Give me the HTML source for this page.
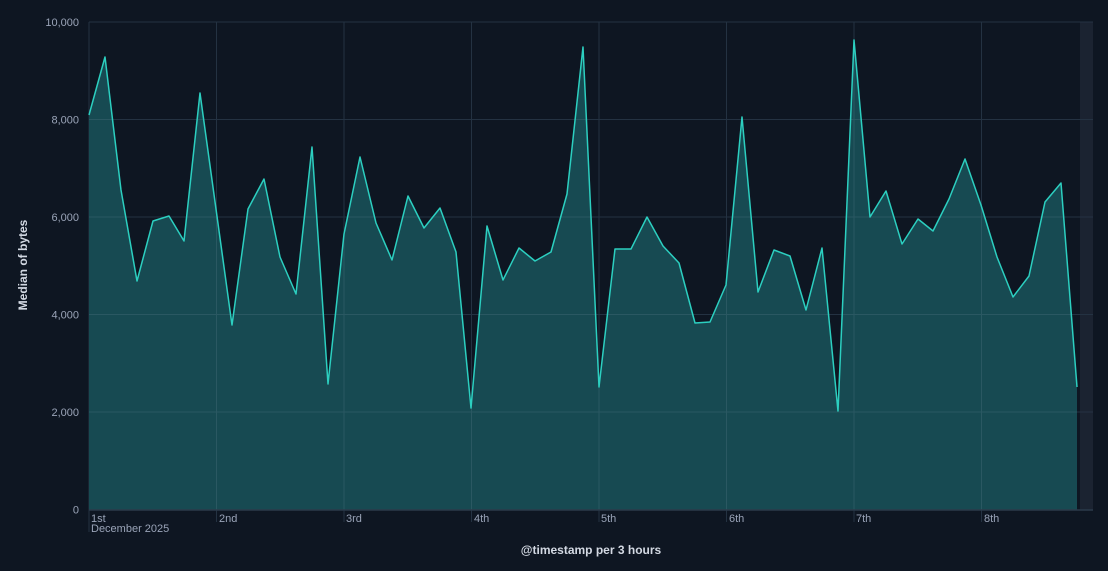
<!DOCTYPE html>
<html><head><style>
html,body{margin:0;padding:0;background:#0e1622;}
svg{display:block;font-family:"Liberation Sans",sans-serif;}
</style></head><body>
<svg width="1108" height="571" viewBox="0 0 1108 571">
<rect width="1108" height="571" fill="#0e1622"/>
<rect x="1080" y="22" width="13" height="488" fill="#1b2331"/>
<g stroke="#243242" stroke-width="1">
<line x1="89" y1="22" x2="1093" y2="22"/>
<line x1="89" y1="119.5" x2="1093" y2="119.5"/>
<line x1="89" y1="217" x2="1093" y2="217"/>
<line x1="89" y1="314.5" x2="1093" y2="314.5"/>
<line x1="89" y1="412" x2="1093" y2="412"/>
<line x1="216.5" y1="22" x2="216.5" y2="522"/>
<line x1="344" y1="22" x2="344" y2="522"/>
<line x1="471.5" y1="22" x2="471.5" y2="522"/>
<line x1="599" y1="22" x2="599" y2="522"/>
<line x1="726.5" y1="22" x2="726.5" y2="522"/>
<line x1="854" y1="22" x2="854" y2="522"/>
<line x1="981.5" y1="22" x2="981.5" y2="522"/>
<line x1="89" y1="22" x2="89" y2="532"/>
</g>
<polygon fill="#174a52" points="89,509.5 89,115 105,57 121,190 137,281 153,221 169,216 184,241 200,93 216,209 232,325 248,209 264,179 280,257 296,294 312,147 328,384 344,234 360,157 376,223 392,260 408,196 424,228 440,208 456,252 471,408 487,226 503,280 519,248 535,261 551,252 567,194 583,47 599,387 615,249 631,249 647,217 663,246 679,263 695,323 710,322 726,285 742,117 758,292 774,250 790,256 806,310 822,248 838,411 854,40 870,217 886,191 902,244 918,219 933,231 949,199 965,159 981,205 997,257 1013,297 1029,276 1045,202 1061,183 1077,387 1077,509.5"/>
<g clip-path="url(#c)" stroke="#2a5862" stroke-width="1">
<clipPath id="c"><polygon points="89,509.5 89,115 105,57 121,190 137,281 153,221 169,216 184,241 200,93 216,209 232,325 248,209 264,179 280,257 296,294 312,147 328,384 344,234 360,157 376,223 392,260 408,196 424,228 440,208 456,252 471,408 487,226 503,280 519,248 535,261 551,252 567,194 583,47 599,387 615,249 631,249 647,217 663,246 679,263 695,323 710,322 726,285 742,117 758,292 774,250 790,256 806,310 822,248 838,411 854,40 870,217 886,191 902,244 918,219 933,231 949,199 965,159 981,205 997,257 1013,297 1029,276 1045,202 1061,183 1077,387 1077,509.5"/></clipPath>
<line x1="89" y1="412" x2="1077" y2="412"/>
<line x1="89" y1="314.5" x2="1077" y2="314.5"/>
<line x1="89" y1="217" x2="1077" y2="217"/>
<line x1="89" y1="119.5" x2="1077" y2="119.5"/>
<line x1="216.5" y1="22" x2="216.5" y2="510"/>
<line x1="344" y1="22" x2="344" y2="510"/>
<line x1="471.5" y1="22" x2="471.5" y2="510"/>
<line x1="599" y1="22" x2="599" y2="510"/>
<line x1="726.5" y1="22" x2="726.5" y2="510"/>
<line x1="854" y1="22" x2="854" y2="510"/>
<line x1="981.5" y1="22" x2="981.5" y2="510"/>
</g>
<polyline fill="none" stroke="#2ccfc0" stroke-width="1.5" stroke-linejoin="round" points="89,115 105,57 121,190 137,281 153,221 169,216 184,241 200,93 216,209 232,325 248,209 264,179 280,257 296,294 312,147 328,384 344,234 360,157 376,223 392,260 408,196 424,228 440,208 456,252 471,408 487,226 503,280 519,248 535,261 551,252 567,194 583,47 599,387 615,249 631,249 647,217 663,246 679,263 695,323 710,322 726,285 742,117 758,292 774,250 790,256 806,310 822,248 838,411 854,40 870,217 886,191 902,244 918,219 933,231 949,199 965,159 981,205 997,257 1013,297 1029,276 1045,202 1061,183 1077,387"/>
<line x1="89" y1="510" x2="1093" y2="510" stroke="#2b3a4a" stroke-width="1.5"/>
<g fill="#9aa4b8" font-size="11" text-anchor="end">
<text x="79" y="26">10,000</text>
<text x="79" y="123.5">8,000</text>
<text x="79" y="221">6,000</text>
<text x="79" y="318.5">4,000</text>
<text x="79" y="416">2,000</text>
<text x="79" y="513.5">0</text>
</g>
<g fill="#9aa4b8" font-size="11">
<text x="91" y="522">1st</text>
<text x="91" y="532">December 2025</text>
<text x="219" y="522">2nd</text>
<text x="346" y="522">3rd</text>
<text x="474" y="522">4th</text>
<text x="601" y="522">5th</text>
<text x="729" y="522">6th</text>
<text x="856" y="522">7th</text>
<text x="984" y="522">8th</text>
</g>
<text x="591" y="554" fill="#d3d9e3" font-size="12" font-weight="bold" text-anchor="middle">@timestamp per 3 hours</text>
<text transform="translate(27,265) rotate(-90)" fill="#d3d9e3" font-size="12" font-weight="bold" text-anchor="middle">Median of bytes</text>
</svg>
</body></html>
